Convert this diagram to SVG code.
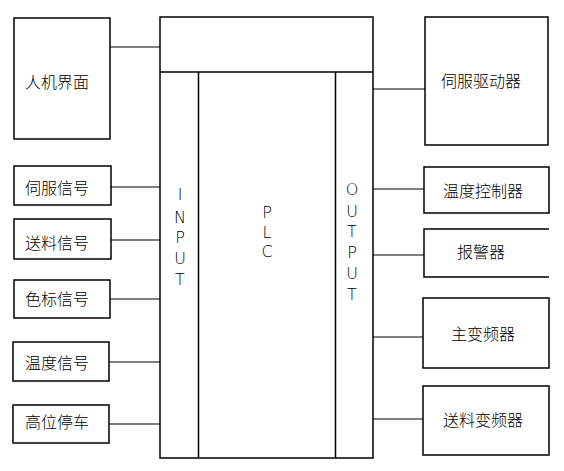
<svg xmlns="http://www.w3.org/2000/svg" width="564" height="471" viewBox="0 0 564 471">
<style>
.box{fill:none;stroke:#000;stroke-width:1.5}
.ln{stroke:#000;stroke-width:1.2;fill:none}
.cn{font-family:"Noto Sans CJK SC","Noto Sans",sans-serif;font-size:16px;font-weight:300;fill:#000;dominant-baseline:central}
.lt{font-family:"DejaVu Sans","Liberation Sans",sans-serif;font-size:16px;font-weight:200;fill:#000;text-anchor:middle}
</style>
<rect width="564" height="471" fill="#fff"/>
<g id="plc">
<rect class="box" x="160" y="17" width="213" height="441"/>
<line class="box" x1="160" y1="72" x2="373" y2="72"/>
<line class="box" x1="198.5" y1="72" x2="198.5" y2="458"/>
<line class="box" x1="335.5" y1="72" x2="335.5" y2="458"/>
<text class="lt" x="267"><tspan x="267" y="218">P</tspan><tspan x="267" y="238">L</tspan><tspan x="267" y="257">C</tspan></text>
</g>
<g id="input">
<text class="lt" x="180"><tspan x="180" y="200">I</tspan><tspan x="180" y="223">N</tspan><tspan x="180" y="243">P</tspan><tspan x="180" y="264">U</tspan><tspan x="180" y="285">T</tspan></text>
</g>
<g id="output">
<text class="lt" x="352"><tspan x="352" y="195">O</tspan><tspan x="352" y="217">U</tspan><tspan x="352" y="237">T</tspan><tspan x="352" y="258">P</tspan><tspan x="352" y="279">U</tspan><tspan x="352" y="300">T</tspan></text>
</g>
<g id="hmi"><rect class="box" x="14" y="18" width="96" height="121"/><text class="cn" x="25" y="81">人机界面</text></g>
<g id="servo-signal"><rect class="box" x="14" y="166" width="97" height="39"/><text class="cn" x="25" y="187">伺服信号</text></g>
<g id="feed-signal"><rect class="box" x="14" y="219" width="97" height="40"/><text class="cn" x="25" y="242">送料信号</text></g>
<g id="mark-signal"><rect class="box" x="14" y="280" width="96" height="38"/><text class="cn" x="25" y="298">色标信号</text></g>
<g id="temp-signal"><rect class="box" x="13" y="342" width="96" height="39"/><text class="cn" x="25" y="362">温度信号</text></g>
<g id="stop"><rect class="box" x="13" y="405" width="96" height="38"/><text class="cn" x="25" y="421">高位停车</text></g>
<g id="servo-driver"><rect class="box" x="425" y="17" width="123" height="128"/><text class="cn" x="441" y="80">伺服驱动器</text></g>
<g id="temp-ctrl"><rect class="box" x="424" y="167" width="125" height="46"/><text class="cn" x="443" y="190">温度控制器</text></g>
<g id="alarm"><path class="box" d="M549 229 H424 V277 H549"/><text class="cn" x="457" y="251">报警器</text></g>
<g id="main-inv"><rect class="box" x="423" y="298" width="126" height="70"/><text class="cn" x="451" y="333">主变频器</text></g>
<g id="feed-inv"><rect class="box" x="423" y="386" width="126" height="69"/><text class="cn" x="443" y="419">送料变频器</text></g>
<g id="connectors">
<line class="ln" x1="110" y1="47" x2="160" y2="47"/>
<line class="ln" x1="111" y1="187" x2="160" y2="187"/>
<line class="ln" x1="111" y1="240" x2="160" y2="240"/>
<line class="ln" x1="110" y1="299" x2="160" y2="299"/>
<line class="ln" x1="109" y1="362" x2="160" y2="362"/>
<line class="ln" x1="109" y1="424" x2="160" y2="424"/>
<line class="ln" x1="373" y1="89" x2="425" y2="89"/>
<line class="ln" x1="373" y1="189" x2="424" y2="189"/>
<line class="ln" x1="373" y1="255" x2="424" y2="255"/>
<line class="ln" x1="373" y1="337" x2="423" y2="337"/>
<line class="ln" x1="373" y1="419" x2="423" y2="419"/>
</g>
</svg>
